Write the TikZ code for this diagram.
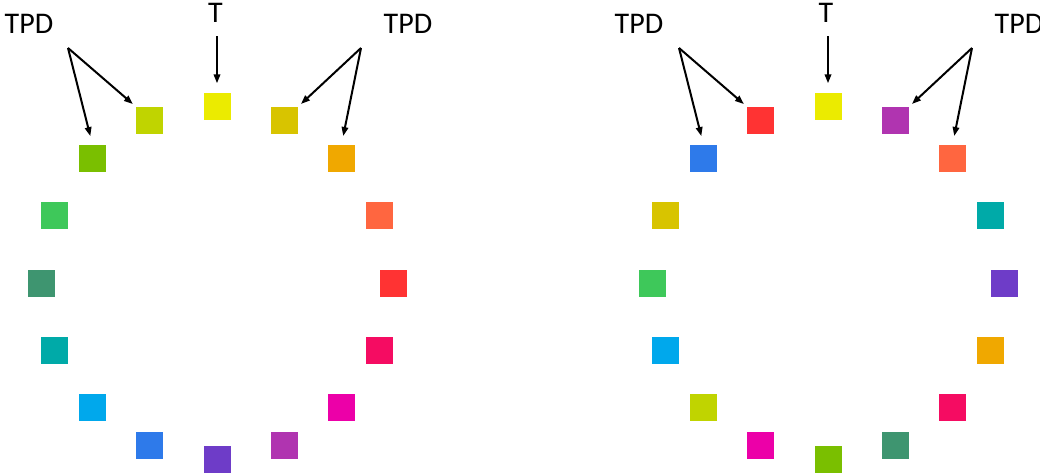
\documentclass[tikz,border=0pt]{standalone}
\usepackage{fontspec}
\setmainfont{Carlito}
\usetikzlibrary{arrows.meta}

\definecolor{tyellow}{HTML}{EBEB00}
\definecolor{ochre}{HTML}{D8C400}
\definecolor{amber}{HTML}{F0A800}
\definecolor{coral}{HTML}{FF6640}
\definecolor{brightred}{HTML}{FF3333}
\definecolor{rose}{HTML}{F50C62}
\definecolor{fuchsia}{HTML}{EC00A8}
\definecolor{violet}{HTML}{B034B0}
\definecolor{indigo}{HTML}{6E3CC8}
\definecolor{royal}{HTML}{2E7AEA}
\definecolor{sky}{HTML}{00A8EC}
\definecolor{teal}{HTML}{00AAA8}
\definecolor{sea}{HTML}{3E9570}
\definecolor{mint}{HTML}{3EC85A}
\definecolor{leaf}{HTML}{7ABF00}
\definecolor{lime}{HTML}{C0D400}

\tikzset{
  slot/.style={fill=#1, draw=none, minimum size=27pt, inner sep=0pt},
  lbl/.style={font=\fontsize{30pt}{36pt}\selectfont, inner sep=0pt, anchor=base},
  ptr/.style={line width=2pt, -{Triangle[length=9pt,width=6.5pt]}},
}

\begin{document}
\begin{tikzpicture}[x=1pt,y=-1pt]
\useasboundingbox (0,0) rectangle (1040,473);

% left ring, clockwise from the top
\foreach \c [count=\i from 0] in {tyellow,ochre,amber,coral,brightred,rose,fuchsia,violet,
    indigo,royal,sky,teal,sea,mint,leaf,lime}
  \node[slot=\c] (L\i) at ({217+176*sin(22.5*\i)},{283-176*cos(22.5*\i)}) {};

% right ring, clockwise from the top
\foreach \c [count=\i from 0] in {tyellow,violet,coral,teal,indigo,amber,rose,sea,
    leaf,fuchsia,lime,sky,mint,ochre,royal,brightred}
  \node[slot=\c] (R\i) at ({828+176*sin(22.5*\i)},{283-176*cos(22.5*\i)}) {};

% labels
\node[lbl] (tpdLL) at (29,34) {TPD};
\node[lbl] (tL) at (215.5,23) {T};
\node[lbl] (tpdLR) at (408,34) {TPD};
\node[lbl] (tpdRL) at (639,34) {TPD};
\node[lbl] (tR) at (826,23) {T};
\node[lbl] (tpdRR) at (1019,34) {TPD};

\coordinate (forkLL) at (68,48);
\coordinate (forkLR) at (361,48);
\coordinate (forkRL) at (679,48);
\coordinate (forkRR) at (972,48);

% arrows
\draw[ptr, shorten >=9pt] (forkLL) -- (L14.north);
\draw[ptr, shorten >=4pt] (forkLL) -- (L15.north west);
\draw[ptr, shorten <=13pt, shorten >=10pt] (L0 |- tL.south) -- (L0.north);
\draw[ptr, shorten >=4pt] (forkLR) -- (L1.north east);
\draw[ptr, shorten >=9pt] (forkLR) -- (L2.north);

\draw[ptr, shorten >=9pt] (forkRL) -- (R14.north);
\draw[ptr, shorten >=4pt] (forkRL) -- (R15.north west);
\draw[ptr, shorten <=13pt, shorten >=10pt] (R0 |- tR.south) -- (R0.north);
\draw[ptr, shorten >=4pt] (forkRR) -- (R1.north east);
\draw[ptr, shorten >=9pt] (forkRR) -- (R2.north);
\end{tikzpicture}
\end{document}
